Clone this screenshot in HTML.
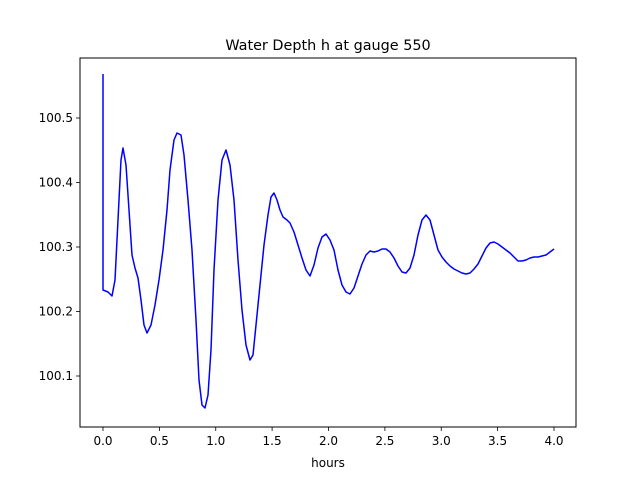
<!DOCTYPE html>
<html><head><meta charset="utf-8"><style>
body{margin:0;background:#fff}
svg{display:block;font-family:"DejaVu Sans","Liberation Sans",sans-serif}
</style></head><body>
<svg width="640" height="480" viewBox="0 0 640 480">
<rect width="640" height="480" fill="#fff"/>
<text x="328" y="50" font-size="14.4" text-anchor="middle">Water Depth h at gauge 550</text>
<polyline fill="none" stroke="#0000ff" stroke-width="1.5" stroke-linejoin="round" points="103,74 103,290 108,292 112,296 115,280 118,220 121,160 123,148 126,165 129,210 132,255 135,268 138,278 141,300 144,325 147,333 151,325 155,305 159,280 163,250 167,210 170,170 174,140 177,133 181,135 184,155 188,200 192,250 196,320 199,380 202,405 205,408 208,395 211,350 214,270 218,200 222,160 226,150 230,165 234,200 238,260 242,310 246,345 250,360 253,355 256,325 260,285 264,245 268,215 271,197 274,193 277,200 280,210 283,217 287,220 290,223 294,232 298,245 302,258 306,270 310,276 314,265 318,248 322,237 326,234 330,240 334,250 338,270 342,285 346,292 350,294 354,288 358,276 362,264 366,255 370,251 374,252 378,251 382,249 386,249 390,252 394,258 398,266 402,272 406,273 410,268 414,255 418,235 422,220 426,215 430,220 434,235 438,250 442,257 446,262 450,266 454,269 458,271 462,273 466,274 470,273 474,269 478,264 482,256 486,248 490,243 494,242 498,244 502,247 506,250 510,253 514,257 518,261 522,261 526,260 530,258 534,257 538,257 542,256 546,255 550,252 554,249"/>
<rect x="80" y="58" width="496" height="369" fill="none" stroke="#000" stroke-width="1"/>
<g stroke="#000" stroke-width="0.8">
<line x1="103" y1="427" x2="103" y2="431"/><line x1="159.4" y1="427" x2="159.4" y2="431"/><line x1="215.75" y1="427" x2="215.75" y2="431"/><line x1="272.1" y1="427" x2="272.1" y2="431"/><line x1="328.5" y1="427" x2="328.5" y2="431"/><line x1="384.9" y1="427" x2="384.9" y2="431"/><line x1="441.25" y1="427" x2="441.25" y2="431"/><line x1="497.6" y1="427" x2="497.6" y2="431"/><line x1="554" y1="427" x2="554" y2="431"/>
<line x1="76" y1="118" x2="80" y2="118"/><line x1="76" y1="182.5" x2="80" y2="182.5"/><line x1="76" y1="247" x2="80" y2="247"/><line x1="76" y1="311.5" x2="80" y2="311.5"/><line x1="76" y1="376" x2="80" y2="376"/>
</g>
<g font-size="12" text-anchor="middle">
<text x="103" y="445">0.0</text><text x="159.4" y="445">0.5</text><text x="215.75" y="445">1.0</text><text x="272.1" y="445">1.5</text><text x="328.5" y="445">2.0</text><text x="384.9" y="445">2.5</text><text x="441.25" y="445">3.0</text><text x="497.6" y="445">3.5</text><text x="554" y="445">4.0</text>
<text x="328" y="467">hours</text>
</g>
<g font-size="12" text-anchor="end">
<text x="73" y="122">100.5</text><text x="73" y="186.5">100.4</text><text x="73" y="251">100.3</text><text x="73" y="315.5">100.2</text><text x="73" y="380">100.1</text>
</g>
</svg>
</body></html>
